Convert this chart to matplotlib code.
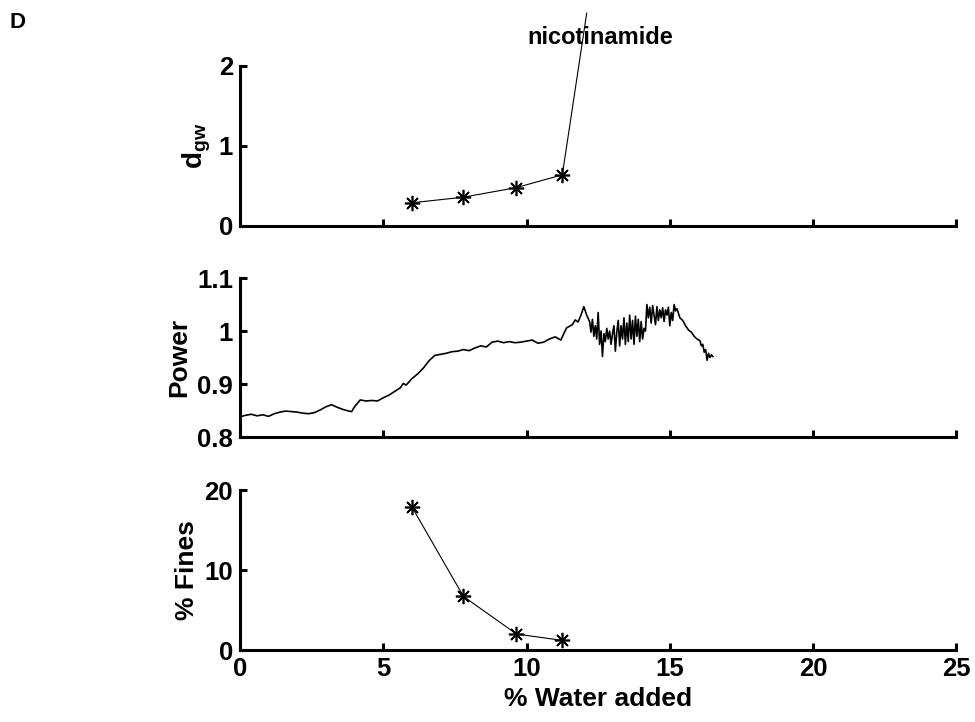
import numpy as np
import matplotlib
matplotlib.use('Agg')
from matplotlib import pyplot as plt

plt.rcParams['font.family'] = ['Liberation Sans', 'DejaVu Sans']
plt.rcParams['font.weight'] = 'bold'
plt.rcParams['axes.labelweight'] = 'bold'
plt.rcParams['mathtext.fontset'] = 'custom'
plt.rcParams['mathtext.rm'] = 'Liberation Sans:bold'
plt.rcParams['mathtext.bf'] = 'Liberation Sans:bold'
plt.rcParams['mathtext.it'] = 'Liberation Sans:bold'

# granulation endpoints (% water added)
water = [6.0, 7.8, 9.65, 11.25]
dgw = [0.29, 0.36, 0.48, 0.64]
dgw_off = (12.1, 2.66)          # last point, off the top of the scale
fines = [17.9, 6.7, 2.0, 1.2]

# power trace
power_x = [0.0, 0.2, 0.4, 0.6, 0.8, 1.0, 1.2, 1.4, 1.6, 1.8, 2.0, 2.2, 2.4, 2.6, 2.8,
           3.0, 3.2, 3.4, 3.6, 3.8, 3.9, 4.0, 4.2, 4.4, 4.6, 4.8, 5.0, 5.2, 5.4, 5.6,
           5.7, 5.8, 6.0, 6.2, 6.4, 6.6, 6.8, 7.0, 7.2, 7.4, 7.6, 7.8, 8.0, 8.2, 8.4,
           8.6, 8.8, 9.0, 9.2, 9.4, 9.6, 9.8, 10.0, 10.2, 10.4, 10.6, 10.8, 11.0, 11.2,
           11.3, 11.4, 11.6, 11.7, 11.8, 11.9, 12.0, 12.1, 12.2,
           12.25, 12.3, 12.35, 12.4, 12.45, 12.5, 12.55, 12.6, 12.65, 12.7, 12.75,
           12.8, 12.85, 12.9, 12.95, 13.0, 13.05, 13.1, 13.15, 13.2, 13.25, 13.3,
           13.35, 13.4, 13.45, 13.5, 13.55, 13.6, 13.65, 13.7, 13.75, 13.8, 13.85,
           13.9, 13.95, 14.0, 14.05, 14.1, 14.15,
           14.2, 14.25, 14.3, 14.35, 14.4, 14.45, 14.5, 14.55, 14.6, 14.65, 14.7,
           14.75, 14.8, 14.85, 14.9, 14.95, 15.0, 15.05, 15.1, 15.15, 15.2, 15.25,
           15.35, 15.45, 15.55, 15.65, 15.75, 15.85, 15.95, 16.05, 16.1, 16.15,
           16.2, 16.25, 16.3, 16.35, 16.4, 16.45, 16.5]
power_y = [0.838, 0.841, 0.843, 0.840, 0.842, 0.839, 0.844, 0.847, 0.849, 0.848, 0.847,
           0.845, 0.844, 0.846, 0.851, 0.857, 0.861, 0.856, 0.852, 0.849, 0.848, 0.857,
           0.870, 0.868, 0.869, 0.868, 0.874, 0.879, 0.886, 0.893, 0.901, 0.898, 0.910,
           0.919, 0.930, 0.944, 0.954, 0.956, 0.958, 0.961, 0.962, 0.965, 0.963, 0.968,
           0.972, 0.970, 0.979, 0.981, 0.978, 0.980, 0.978, 0.979, 0.981, 0.983, 0.977,
           0.979, 0.985, 0.989, 0.983, 0.995, 1.006, 1.012, 1.021, 1.017, 1.030, 1.046,
           1.030, 1.018,
           0.998, 1.022, 0.990, 1.010, 0.985, 1.035, 0.975, 1.000, 0.952, 0.995, 0.980,
           1.005, 0.985, 1.000, 0.975, 0.995, 1.010, 0.962, 0.998, 1.020, 0.972, 1.010,
           0.985, 1.025, 0.975, 1.015, 0.980, 1.030, 0.985, 1.020, 0.975, 1.028, 0.990,
           1.022, 0.980, 1.018, 0.985, 1.005, 1.000,
           1.050, 1.025, 1.045, 1.015, 1.048, 1.030, 1.012, 1.046, 1.020, 1.040, 1.025,
           1.044, 1.018, 1.040, 1.030, 1.045, 1.010, 1.035, 1.020, 1.050, 1.038, 1.042,
           1.025, 1.020, 1.010, 1.002, 0.998, 0.990, 0.985, 0.982, 0.972, 0.975,
           0.960, 0.965, 0.945, 0.958, 0.950, 0.955, 0.952]

xticks = [0, 5, 10, 15, 20, 25]

fig = plt.figure(figsize=(9.75, 7.22), dpi=100)
ax1 = fig.add_axes([0.246, 0.687, 0.735, 0.2216])
ax2 = fig.add_axes([0.246, 0.3947, 0.735, 0.2202])
ax3 = fig.add_axes([0.246, 0.0997, 0.735, 0.2216])

star = (8, 2, 0)
for ax in (ax1, ax2, ax3):
    ax.spines['top'].set_visible(False)
    ax.spines['right'].set_visible(False)
    ax.spines['left'].set_linewidth(2.2)
    ax.spines['bottom'].set_linewidth(2.2)
    ax.tick_params(direction='in', length=5, width=2.2, labelsize=18.5, pad=5)
    ax.set_xlim(0, 25)
    ax.set_xticks(xticks)

ax1.plot(water + [dgw_off[0]], dgw + [dgw_off[1]], color='k', lw=0.8, clip_on=False)
ax1.plot(water, dgw, ls='none', marker=star, ms=11, mew=1.2, color='k')
ax1.set_ylim(0, 2)
ax1.set_yticks([0, 1, 2])
ax1.set_xticklabels([])
ax1.set_ylabel(r'$\mathregular{d_{gw}}$', fontsize=20, labelpad=4)

ax2.plot(power_x, power_y, color='k', lw=1.2)
ax2.set_ylim(0.8, 1.1)
ax2.set_yticks([0.8, 0.9, 1.0, 1.1])
ax2.set_yticklabels(['0.8', '0.9', '1', '1.1'])
ax2.set_xticklabels([])
ax2.set_ylabel('Power', fontsize=19, labelpad=4)

ax3.plot(water, fines, color='k', lw=0.8, marker=star, ms=11, mew=1.2)
ax3.set_ylim(0, 20)
ax3.set_yticks([0, 10, 20])
ax3.set_ylabel('% Fines', fontsize=19, labelpad=4)
ax3.set_xlabel('% Water added', fontsize=19, labelpad=4)

fig.text(600 / 975, 1 - 37 / 722, 'nicotinamide', fontsize=17, ha='center', va='center')
fig.text(0.01, 1 - 22 / 722, 'D', fontsize=16, ha='left', va='center')

fig.savefig('out.png', dpi=100)
